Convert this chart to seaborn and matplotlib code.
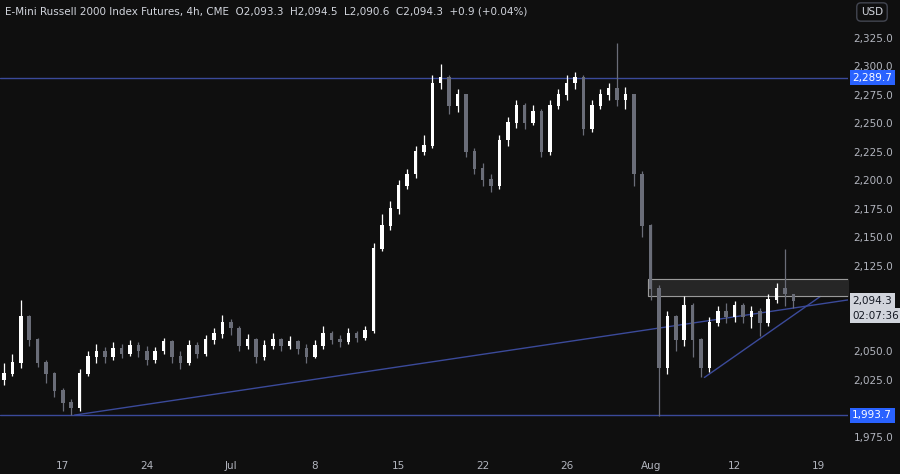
import matplotlib
matplotlib.use("Agg")
import matplotlib.pyplot as plt
import seaborn as sns
import numpy as np

closes = [2030,2040,2080,2060,2040,2030,2015,2005,2000,2030,
          2045,2050,2045,2052,2048,2055,2050,2042,2050,2058,
          2045,2040,2055,2048,2060,2065,2075,2070,2055,2060,
          2045,2055,2060,2055,2058,2052,2045,2055,2065,2060,
          2058,2065,2062,2068,2140,2160,2175,2195,2205,2225,
          2230,2285,2290,2265,2275,2225,2210,2200,2195,2235,
          2250,2265,2250,2260,2225,2265,2275,2285,2290,2245,
          2265,2275,2280,2270,2275,2205,2160,2105,2035,2080,
          2060,2090,2060,2035,2075,2085,2080,2090,2080,2085,
          2075,2095,2105,2100,2094.3]
highs = [2040,2048,2095,2082,2062,2042,2032,2018,2008,2034,
         2050,2056,2054,2058,2056,2060,2058,2055,2054,2062,
         2060,2050,2060,2058,2064,2070,2082,2078,2072,2065,
         2062,2060,2066,2062,2063,2060,2056,2060,2072,2068,
         2064,2070,2068,2072,2145,2170,2182,2200,2210,2230,
         2240,2292,2302,2292,2280,2276,2228,2215,2205,2240,
         2255,2270,2268,2266,2262,2270,2280,2292,2295,2292,
         2270,2280,2285,2320,2282,2276,2208,2162,2108,2085,
         2082,2098,2092,2062,2080,2090,2092,2094,2092,2090,
         2088,2100,2110,2140,2097]
lows = [2020,2028,2035,2055,2036,2022,2010,1998,1994,1998,
        2028,2040,2040,2042,2044,2046,2045,2038,2040,2048,
        2040,2034,2038,2044,2046,2056,2062,2064,2050,2052,
        2040,2042,2052,2050,2052,2048,2040,2044,2052,2056,
        2054,2056,2058,2060,2066,2138,2156,2170,2192,2202,
        2222,2228,2280,2258,2260,2220,2205,2195,2190,2192,
        2230,2246,2245,2248,2220,2222,2262,2270,2280,2240,
        2242,2262,2270,2265,2262,2195,2150,2095,1993,2030,
        2050,2055,2045,2027,2032,2072,2075,2076,2075,2070,
        2063,2072,2092,2090,2088]
opens = [2025] + closes[:-1]

week_labels = ["17","24","Jul","8","15","22","26","Aug","12","19"]
price_ticks = [1975,2000,2025,2050,2075,2100,2125,2150,2175,2200,2225,2250,2275,2300,2325]
hidden_ticks = [2000, 2075, 2100]
resist_level = 2289.7
support_level = 1993.7
last_price = 2094.3
box_lo, box_hi = 2098, 2113

sns.set_theme(style="dark", rc={"axes.facecolor": "#0f0f0f", "figure.facecolor": "#0f0f0f"})
plt.rcParams['font.family'] = ['DejaVu Sans']

fig = plt.figure(figsize=(9, 4.74), dpi=100)
ax = fig.add_axes([0, 19/474, 848/900, 455/474])
ax.set_facecolor("#0f0f0f")

idx = np.arange(len(closes))
c = np.array(closes); o = np.array(opens); h = np.array(highs); l = np.array(lows)
up = c >= o
cols = np.where(up, "#ffffff", "#6a6d78")
ax.vlines(idx, l, h, colors=cols, linewidth=0.9, zorder=3)
ax.bar(idx, np.abs(c - o) + 0.6, bottom=np.minimum(c, o), width=0.42, color=cols, linewidth=0, zorder=4)

line_col = "#3b4a9a"
ax.axhline(resist_level, color=line_col, lw=1, zorder=2)
ax.axhline(support_level, color=line_col, lw=1, zorder=2)
ax.plot([8.4, 100.5], [1994, 2095], color=line_col, lw=1, zorder=2)
ax.plot([83.4, 97.2], [2027, 2098], color=line_col, lw=1, zorder=2)
ax.fill_between([76.7, 100.5], box_lo, box_hi, color="#262626", zorder=1)
ax.plot([76.7, 100.5], [box_hi, box_hi], color="#9a9a9a", lw=0.8, zorder=2)
ax.plot([76.7, 100.5], [box_lo, box_lo], color="#9a9a9a", lw=0.8, zorder=2)
ax.plot([76.7, 76.7], [box_lo, box_hi], color="#9a9a9a", lw=0.8, zorder=2)

ax.set_xlim(-0.48, 100.5)
ax.set_ylim(1959, 2358)
ax.set_xticks([7 + 10 * k for k in range(len(week_labels))])
ax.set_xticklabels(week_labels, color="#b2b5be", fontsize=7.5)
ax.yaxis.tick_right()
ax.set_yticks(price_ticks)
ax.set_yticklabels(["" if p in hidden_ticks else f"{p:,.1f}" for p in price_ticks],
                   color="#b2b5be", fontsize=7.5)
ax.tick_params(length=0, pad=4)
for s in ax.spines.values():
    s.set_visible(False)
ax.grid(False)

def tag(y, txt, fc, tc):
    ax.text(101.0, y, txt, transform=ax.transData, fontsize=7.5, color=tc, va="center", ha="left",
            bbox=dict(boxstyle="square,pad=0.25", fc=fc, ec="none"), zorder=10, clip_on=False)

tag(resist_level, f"{resist_level:,.1f}", "#2962ff", "white")
tag(support_level, f"{support_level:,.1f}", "#2962ff", "white")
tag(last_price, f"{last_price:,.1f}", "#d1d4dc", "#131722")
tag(last_price - 13, "02:07:36", "#d1d4dc", "#131722")

fig.text(5/900, 1 - 11/474, "E-Mini Russell 2000 Index Futures, 4h, CME  O2,093.3  H2,094.5  L2,090.6  C2,094.3  +0.9 (+0.04%)",
         color="#d1d4dc", fontsize=7.5, va="center")
fig.text(872/900, 1 - 12/474, "USD", color="#d1d4dc", fontsize=7.5, va="center", ha="center",
         bbox=dict(boxstyle="round,pad=0.4", fc="#0f0f0f", ec="#434651"))

fig.savefig("out.png", dpi=100, facecolor="#0f0f0f")
